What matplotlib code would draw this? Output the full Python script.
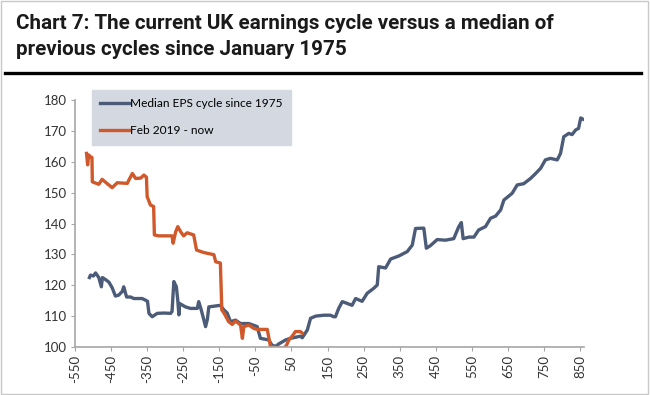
import matplotlib
matplotlib.use("Agg")
import matplotlib.pyplot as plt
from matplotlib.lines import Line2D
from matplotlib.patches import Rectangle

# Median EPS cycle since 1975 (days relative to trough, index)
median_x = [-510, -507, -499, -493, -484, -477, -474, -465, -456, -447, -438, -429,
            -419, -415, -407, -396, -387, -364, -355, -349, -345, -336, -322, -304,
            -285, -281, -276, -269, -265, -262, -260, -244, -230, -211, -207, -200,
            -188, -183, -179, -147, -137, -128, -119, -105, -91, -68, -45, -36, -13,
            -4, 6, 15, 34, 47, 75, 80, 94, 103, 117, 140, 158, 167, 172, 181, 191,
            205, 218, 228, 246, 260, 278, 288, 292, 311, 325, 348, 371, 385, 394,
            417, 424, 435, 454, 477, 500, 514, 521, 526, 542, 556, 569, 588, 602,
            616, 630, 639, 662, 676, 694, 713, 727, 741, 754, 768, 787, 796, 805,
            819, 828, 838, 846, 852, 858]
median_y = [122.5, 123.3, 123.0, 124.0, 122.5, 119.5, 122.5, 121.8, 121.0, 119.2, 116.5,
            116.8, 118.0, 119.5, 116.2, 116.2, 115.7, 115.7, 115.2, 114.8, 110.9, 109.8,
            110.9, 111.0, 110.9, 111.5, 121.2, 119.5, 115.0, 110.4, 114.1, 113.0, 112.5,
            112.5, 114.7, 112.0, 106.6, 109.0, 113.0, 113.5, 112.0, 111.0, 108.2, 108.7,
            107.6, 107.6, 106.6, 102.8, 102.3, 100.6, 100.2, 101.0, 102.3, 102.8, 103.5,
            103.0, 105.5, 109.3, 110.0, 110.3, 110.3, 109.8, 109.8, 112.5, 114.7, 114.1,
            113.5, 115.7, 114.8, 117.4, 119.0, 120.1, 126.0, 125.6, 128.5, 129.5, 130.9,
            133.0, 138.4, 138.5, 132.0, 132.8, 134.8, 134.6, 135.1, 139.0, 140.3, 135.1,
            135.6, 135.6, 137.9, 139.0, 141.7, 142.4, 144.4, 147.6, 149.8, 152.5, 152.9,
            154.6, 156.2, 157.9, 160.6, 161.1, 160.6, 162.7, 168.1, 169.2, 168.8, 170.3,
            170.8, 174.2, 173.8]

# Current cycle: Feb 2019 - now
current_x = [-518, -515, -512, -507, -503, -502, -484, -475, -447, -433, -405, -401,
             -391, -382, -368, -359, -352, -350, -341, -332, -330, -318, -281, -278,
             -271, -265, -257, -249, -239, -221, -213, -193, -165, -160, -147, -143,
             -137, -124, -114, -105, -91, -86, -82, -68, -54, -45, -17, -8, 29, 36,
             43, 52, 61, 75, 80]
current_y = [162.7, 159.0, 162.2, 161.6, 161.4, 153.5, 152.7, 154.3, 151.6, 153.2, 153.0,
             154.0, 156.2, 154.6, 154.7, 155.7, 155.0, 148.7, 146.0, 145.5, 136.3, 136.0,
             136.0, 133.6, 137.3, 139.0, 137.3, 136.0, 137.0, 136.3, 131.4, 130.6, 129.9,
             127.6, 127.2, 112.0, 111.0, 108.2, 107.3, 108.4, 107.1, 102.8, 106.6, 107.1,
             106.0, 105.7, 105.7, 100.1, 99.6, 100.5, 102.3, 103.5, 105.0, 105.0, 104.5]

x_ticks = list(range(-550, 851, 100))
y_ticks = list(range(100, 181, 10))

title_lines = ["Chart 7: The current UK earnings cycle versus a median of",
               "previous cycles since January 1975"]

blue = "#4b5b78"
orange = "#d0592b"
grey = "#a6a6a6"

fig = plt.figure(figsize=(6.5, 3.95), dpi=100)
ax = fig.add_axes([0.1154, 0.1215, 0.783, 0.6253])

ax.plot(median_x, median_y, color=blue, lw=2.4, solid_joinstyle="round")
ax.plot(current_x, current_y, color=orange, lw=2.4, solid_joinstyle="round")

ax.set_xlim(-550, 861)
ax.set_ylim(100, 180)
ax.set_xticks(x_ticks)
ax.set_yticks(y_ticks)
ax.set_xticklabels([str(t) for t in x_ticks], rotation=90)
for s in ["top", "right"]:
    ax.spines[s].set_visible(False)
for s in ["left", "bottom"]:
    ax.spines[s].set_color(grey)
    ax.spines[s].set_linewidth(1.2)
ax.tick_params(axis="both", colors=grey, length=3, width=0.8,
               labelcolor="#333333", labelsize=9.5, pad=3)
for lab in ax.get_xticklabels() + ax.get_yticklabels():
    lab.set_fontfamily("Lato")

# legend box
handles = [Line2D([], [], color=blue, lw=2.4), Line2D([], [], color=orange, lw=2.4)]
leg = fig.legend(handles, ["Median EPS cycle since 1975", "Feb 2019 - now"],
                 loc="upper left", bbox_to_anchor=(92 / 650, 1 - 90 / 395),
                 frameon=True, fancybox=False, facecolor="#d3d8e1", edgecolor="#d3d8e1",
                 framealpha=1, handlelength=2.4, handletextpad=0.1,
                 labelspacing=1.35, borderpad=0.7, borderaxespad=0,
                 prop={"family": "Lato", "size": 8.6})

for txt, base in zip(title_lines, [29, 55]):
    fig.text(16 / 650, 1 - base / 395, txt, ha="left", va="baseline", fontsize=14.9,
             fontweight="bold", family="Roboto", color="#1a1a1a")

# black rule under title
fig.add_artist(Line2D([5 / 650, 641 / 650], [1 - 72.5 / 395] * 2, color="black", lw=2.4,
                      transform=fig.transFigure))
# thin frame round the figure
fig.add_artist(Rectangle((0.001, 0.003), 0.996, 0.995, fill=False, edgecolor="#c8c8c8",
                         lw=1.0, transform=fig.transFigure))

fig.savefig("out.png", dpi=100)
